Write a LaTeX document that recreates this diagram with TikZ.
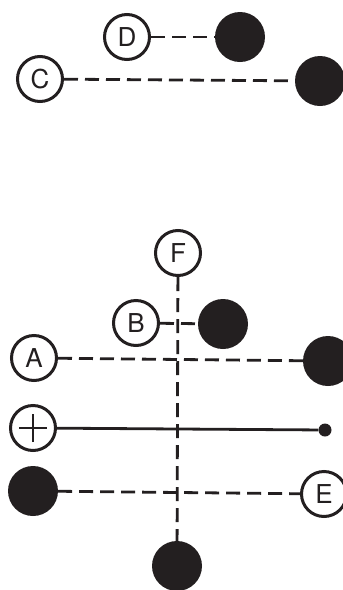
\documentclass[tikz,border=0pt]{standalone}
\usepackage{fontspec}
\setmainfont{TeX Gyre Heros}
\definecolor{ink}{HTML}{231F20}
\begin{document}
\begin{tikzpicture}[x=1pt,y=-1pt,
  term/.style={circle,draw=ink,line width=3pt,fill=white,minimum size=45pt,inner sep=0pt,
    font=\fontsize{26}{26}\selectfont,text=ink},
  ball/.style={circle,fill=ink,minimum size=50pt,inner sep=0pt},
  tip/.style={circle,fill=ink,minimum size=13pt,inner sep=0pt},
  link/.style={draw=ink,line width=2.8pt,dash pattern=on 14pt off 7pt},
  wire/.style={draw=ink,line width=2.8pt}]
\useasboundingbox (0,0) rectangle (343,590);

% upper group
\node[term] (D) at (127,37) {D};
\node[ball] (d) at (240,37) {};
\node[term] (C) at (40,79) {C};
\node[ball] (c) at (320,81) {};

% lower group
\node[ball] (f) at (177,566) {};
\node[term] (F) at (178,253) {F};
\path[link] (F) -- (f);

\node[term] (B) at (136,323) {B};
\node[ball] (b) at (223,324) {};
\node[term] (A) at (34,358) {A};
\node[ball] (a) at (328,361) {};
\node[term] (P) at (33,428) {};
\node[tip] (p) at (325,430) {};
\node[ball] (e) at (33,491) {};
\node[term] (E) at (324,494) {E};

\path[link] (D) -- (d);
\path[link] (C) -- (c);
\path[link] (B) -- (b);
\path[link] (A) -- (a);
\path[wire] (P) -- (p);
\path[link] (e) -- (E);

% plus sign inside the terminal
\draw[ink,line width=2.4pt] ([xshift=-14pt]P.center) -- ([xshift=14pt]P.center);
\draw[ink,line width=2.4pt] ([yshift=-14pt]P.center) -- ([yshift=14pt]P.center);
\end{tikzpicture}
\end{document}
